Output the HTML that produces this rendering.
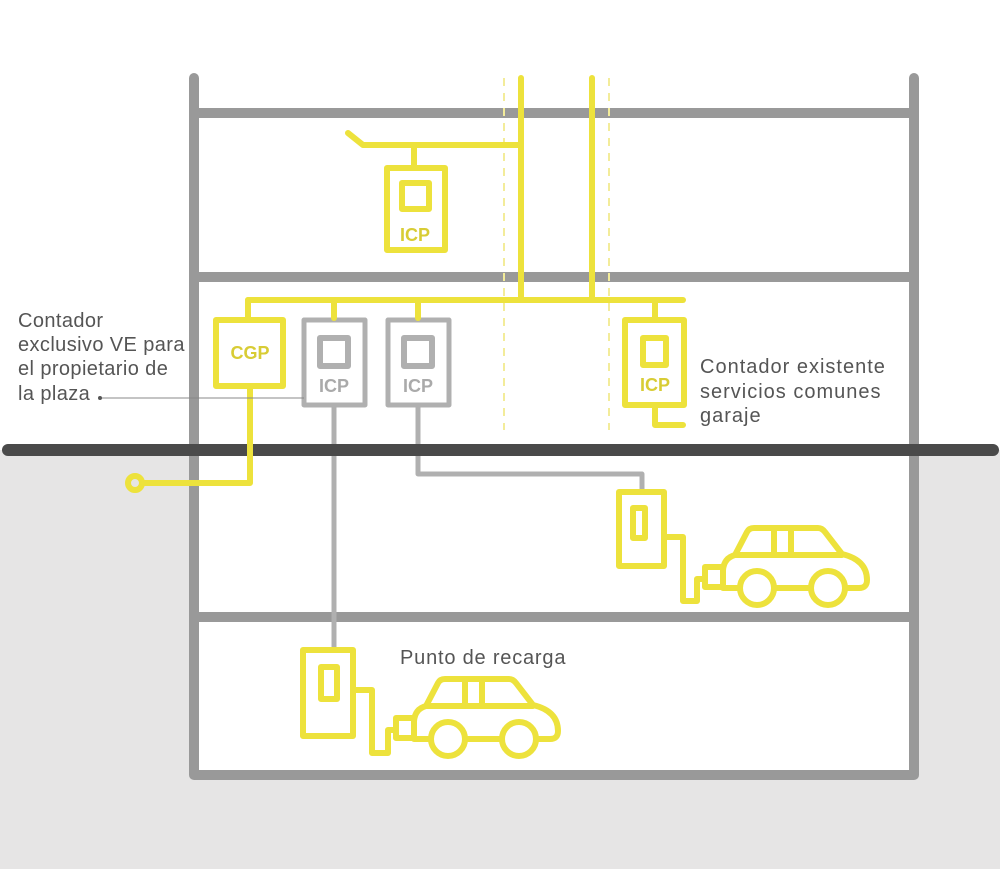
<!DOCTYPE html>
<html><head><meta charset="utf-8"><style>
html,body{margin:0;padding:0;background:#fff;}
svg{display:block;}
text{font-family:"Liberation Sans",sans-serif;}
</style></head><body>
<svg width="1000" height="869" viewBox="0 0 1000 869" xmlns="http://www.w3.org/2000/svg">
<rect x="0" y="450" width="1000" height="419" fill="#e6e5e5"/>
<rect x="194" y="450" width="720" height="325" fill="#fff"/>
<g stroke="#999" stroke-width="10" stroke-linecap="round" fill="none">
<line x1="194" y1="78" x2="194" y2="775"/>
<line x1="914" y1="78" x2="914" y2="775"/>
</g>
<g stroke="#999" stroke-width="10" fill="none">
<line x1="194" y1="113" x2="914" y2="113"/>
<line x1="194" y1="277" x2="914" y2="277"/>
<line x1="194" y1="617" x2="914" y2="617"/>
<line x1="194" y1="775" x2="914" y2="775"/>
</g>
<g stroke="#f3ec9a" stroke-width="2" stroke-dasharray="8,7" fill="none">
<line x1="504" y1="78" x2="504" y2="430"/>
<line x1="609" y1="78" x2="609" y2="430"/>
</g>
<g stroke="#b0b0b0" stroke-width="5" fill="none" stroke-linejoin="round">
<path d="M334,405 L334,648"/>
<path d="M418,405 L418,474 L642,474 L642,492"/>
<rect x="304" y="320" width="61" height="85"/>
<rect x="388" y="320" width="61" height="85"/>
<rect x="320" y="338" width="28" height="28" stroke-width="6"/>
<rect x="404" y="338" width="28" height="28" stroke-width="6"/>
</g>
<text x="334" y="392" font-size="18" font-weight="bold" fill="#aaa" text-anchor="middle">ICP</text>
<text x="418" y="392" font-size="18" font-weight="bold" fill="#aaa" text-anchor="middle">ICP</text>
<line x1="8" y1="450" x2="993" y2="450" stroke="#4a4a4a" stroke-width="12" stroke-linecap="round"/>
<g stroke="#ede23c" stroke-width="6" fill="none" stroke-linecap="round" stroke-linejoin="round">
<line x1="521" y1="78" x2="521" y2="300"/>
<line x1="592" y1="78" x2="592" y2="300"/>
<path d="M348,133 L363,145 L521,145"/>
<line x1="414" y1="145" x2="414" y2="168"/>
<rect x="387" y="168" width="58" height="82"/>
<rect x="402" y="183" width="27" height="26"/>
<line x1="248" y1="300" x2="683" y2="300"/>
<line x1="248" y1="300" x2="248" y2="320"/>
<line x1="334" y1="300" x2="334" y2="318"/>
<line x1="418" y1="300" x2="418" y2="318"/>
<line x1="655" y1="300" x2="655" y2="320"/>
<rect x="216" y="320" width="67" height="66"/>
<path d="M250,386 L250,483 L143,483"/>
<circle cx="135" cy="483" r="7"/>
<rect x="625" y="320" width="59" height="85"/>
<rect x="643" y="338" width="23" height="27"/>
<path d="M655,405 L655,425 L683,425"/>
<rect x="619" y="492" width="45" height="74"/>
<rect x="633" y="508" width="12" height="30"/>
<path d="M664,537 L683,537 L683,601 L697,601 L697,579 L705,579"/>
<g id="car">
<rect x="705" y="567" width="18" height="20"/>
<path d="M723,588 L723,570 Q724,558 735,555 L747,532 Q749,528 754,528 L818,528 Q822,528 825,532 L842,554 Q867,560 867,580 Q867,588 859,588 Z"/>
<line x1="735" y1="555" x2="842" y2="555"/>
<line x1="774" y1="528" x2="774" y2="555"/>
<line x1="791" y1="528" x2="791" y2="555"/>
<circle cx="757" cy="588" r="17" fill="#fff"/>
<circle cx="828" cy="588" r="17" fill="#fff"/>
</g>
<rect x="303" y="650" width="50" height="86"/>
<rect x="321" y="667" width="16" height="32"/>
<path d="M353,690 L372,690 L372,753 L388,753 L388,730 L396,730"/>
<use href="#car" transform="translate(-309,151)"/>
</g>
<text x="415" y="241" font-size="18" font-weight="bold" fill="#d8cc35" text-anchor="middle">ICP</text>
<text x="250" y="359" font-size="18" font-weight="bold" fill="#d8cc35" text-anchor="middle">CGP</text>
<text x="655" y="391" font-size="18" font-weight="bold" fill="#d8cc35" text-anchor="middle">ICP</text>
<line x1="100" y1="398" x2="304" y2="398" stroke="#888" stroke-width="1"/>
<circle cx="100" cy="398" r="2" fill="#555"/>
<g font-size="20" fill="#555" letter-spacing="0.4">
<text x="18" y="327">Contador</text>
<text x="18" y="351">exclusivo VE para</text>
<text x="18" y="375">el propietario de</text>
<text x="18" y="400">la plaza</text>
<text x="700" y="373" letter-spacing="1">Contador existente</text>
<text x="700" y="398" letter-spacing="1">servicios comunes</text>
<text x="700" y="422" letter-spacing="1">garaje</text>
<text x="400" y="664" letter-spacing="0.8">Punto de recarga</text>
</g>
</svg>
</body></html>
